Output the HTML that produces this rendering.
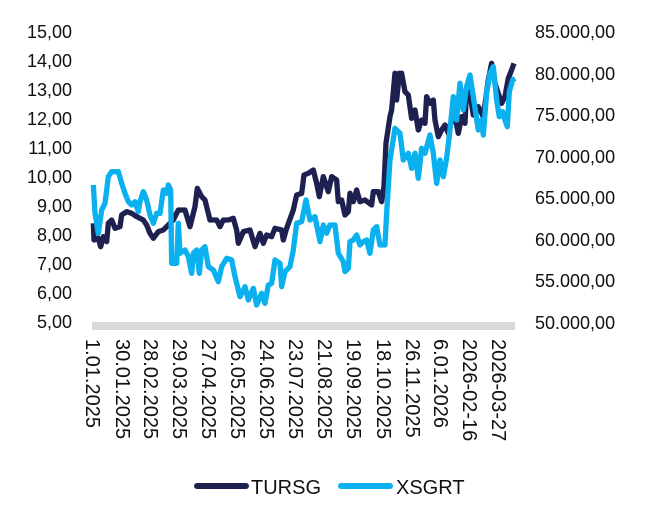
<!DOCTYPE html>
<html><head><meta charset="utf-8"><style>
body{margin:0;background:#fff;width:650px;height:514px;overflow:hidden;font-family:"Liberation Sans",sans-serif;color:#111}
.l{position:absolute;right:578px;font-size:18px;line-height:18px;text-align:right}
.r{position:absolute;left:535px;font-size:18px;line-height:18px}
.x{position:absolute;top:339px;font-size:20px;line-height:20px;white-space:nowrap;transform-origin:0 0;transform:rotate(90deg)}
</style></head><body>
<div style="position:relative;width:650px;height:514px">
<div class="l" style="top:23px">15,00</div>
<div class="l" style="top:52px">14,00</div>
<div class="l" style="top:81px">13,00</div>
<div class="l" style="top:110px">12,00</div>
<div class="l" style="top:139px">11,00</div>
<div class="l" style="top:168px">10,00</div>
<div class="l" style="top:197px">9,00</div>
<div class="l" style="top:226px">8,00</div>
<div class="l" style="top:255px">7,00</div>
<div class="l" style="top:284px">6,00</div>
<div class="l" style="top:313px">5,00</div>
<div class="r" style="top:23px">85.000,00</div>
<div class="r" style="top:65px">80.000,00</div>
<div class="r" style="top:106px">75.000,00</div>
<div class="r" style="top:148px">70.000,00</div>
<div class="r" style="top:189px">65.000,00</div>
<div class="r" style="top:231px">60.000,00</div>
<div class="r" style="top:272px">55.000,00</div>
<div class="r" style="top:314px">50.000,00</div>
<svg width="650" height="514" style="position:absolute;left:0;top:0">
<rect x="92" y="322" width="423" height="8" fill="#d9d9d9"/>
<g transform="translate(80,20) scale(0.3333)" fill="none" stroke-width="16" stroke-linejoin="round">
<polyline stroke="#1e2150" points="40,610 42,660 55,655 62,680 70,650 80,665 85,610 95,600 105,625 120,620 125,585 140,575 155,580 170,590 190,600 200,615 210,640 220,655 235,635 250,630 260,620 280,600 295,570 315,570 330,620 345,560 352,505 365,530 375,540 390,600 410,600 420,620 430,600 445,600 460,595 470,630 475,670 490,635 510,630 525,680 540,640 550,670 560,645 575,650 585,625 605,630 610,660 620,625 640,570 650,525 665,520 672,465 685,460 700,450 710,490 718,530 730,470 745,515 755,470 770,480 775,545 785,540 795,585 805,575 810,520 820,545 830,510 840,545 855,540 875,555 880,515 895,515 905,545 912,500 918,370 930,290 935,270 945,160 950,240 958,160 965,160 975,215 985,225 995,295 1005,270 1015,330 1025,300 1035,310 1040,230 1050,250 1060,240 1065,300 1075,350 1085,330 1095,315 1105,340 1115,300 1125,290 1135,340 1145,290 1155,310 1160,210 1170,220 1180,285 1195,260 1210,290 1225,180 1235,130 1245,190 1255,220 1265,250 1275,230 1285,175 1295,150 1302,130"/>
<polyline stroke="#0bb0ee" points="40,495 45,580 55,640 65,570 75,550 85,470 95,455 115,455 125,490 135,520 145,545 155,555 165,545 175,575 180,545 190,515 200,540 210,585 220,610 230,580 240,580 250,510 260,520 265,495 272,510 275,730 290,730 295,610 300,700 315,690 325,710 335,760 340,700 350,690 358,760 365,690 375,680 385,740 400,750 415,785 425,740 440,715 455,720 465,770 480,830 495,800 505,840 520,805 530,855 545,820 555,850 565,795 575,790 585,720 600,730 605,800 615,755 630,740 640,690 650,610 665,605 678,540 690,600 705,590 720,665 730,615 740,640 750,615 765,615 775,700 790,725 795,755 805,745 810,665 820,660 830,645 840,675 850,665 860,660 870,700 880,630 890,620 900,675 915,675 920,580 930,420 945,325 960,340 970,420 985,400 995,445 1005,400 1015,475 1025,385 1035,400 1050,345 1060,400 1070,490 1080,420 1090,470 1100,415 1110,330 1120,230 1130,300 1140,190 1150,270 1160,200 1170,165 1180,230 1195,330 1205,300 1210,345 1220,220 1230,160 1240,140 1250,240 1258,290 1268,275 1275,300 1282,320 1288,215 1298,180 1305,175"/>
</g>
<line x1="197" y1="486" x2="246" y2="486" stroke="#1e2150" stroke-width="6" stroke-linecap="round"/>
<line x1="341" y1="486" x2="390" y2="486" stroke="#0bb0ee" stroke-width="6" stroke-linecap="round"/>
<text x="251" y="494" font-size="20" font-family="Liberation Sans" fill="#111">TURSG</text>
<text x="396" y="494" font-size="20" font-family="Liberation Sans" fill="#111">XSGRT</text>
</svg>
<div class="x" style="left:102px">1.01.2025</div>
<div class="x" style="left:132px">30.01.2025</div>
<div class="x" style="left:160px">28.02.2025</div>
<div class="x" style="left:189px">29.03.2025</div>
<div class="x" style="left:218px">27.04.2025</div>
<div class="x" style="left:247px">26.05.2025</div>
<div class="x" style="left:276px">24.06.2025</div>
<div class="x" style="left:305px">23.07.2025</div>
<div class="x" style="left:334px">21.08.2025</div>
<div class="x" style="left:363px">19.09.2025</div>
<div class="x" style="left:393px">18.10.2025</div>
<div class="x" style="left:422px">26.11.2025</div>
<div class="x" style="left:450px">6.01.2026</div>
<div class="x" style="left:479px">2026-02-16</div>
<div class="x" style="left:508px">2026-03-27</div>
</div>
</body></html>
